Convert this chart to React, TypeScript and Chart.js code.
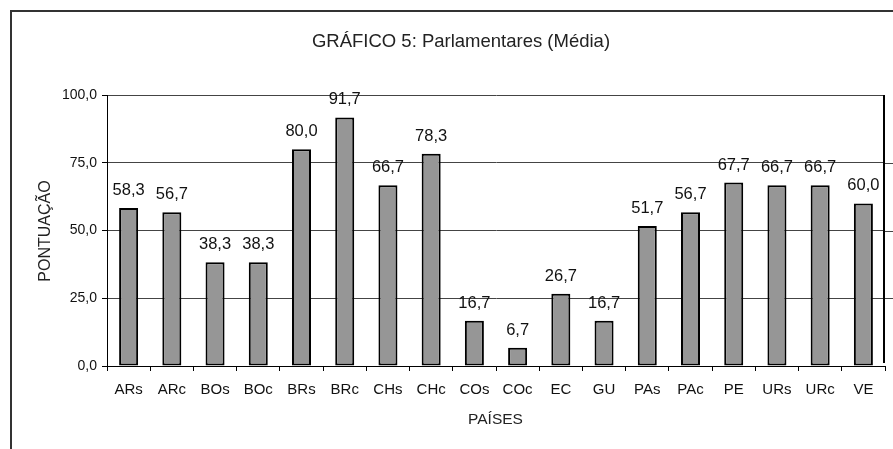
import React, { useEffect, useRef } from "react";
import { Chart, registerables } from "chart.js";

Chart.register(...registerables);

const categories = ["ARs", "ARc", "BOs", "BOc", "BRs", "BRc", "CHs", "CHc", "COs", "COc", "EC", "GU", "PAs", "PAc", "PE", "URs", "URc", "VE"];
const values = [58.3, 56.7, 38.3, 38.3, 80.0, 91.7, 66.7, 78.3, 16.7, 6.7, 26.7, 16.7, 51.7, 56.7, 67.7, 66.7, 66.7, 60.0];
const yTicks = [0, 25, 50, 75, 100];
const titleText = "GRÁFICO 5: Parlamentares (Média)";
const yTitle = "PONTUAÇÃO";
const xTitle = "PAÍSES";

const FONT = "'Liberation Sans', Arial, sans-serif";
const fmt = (v: number) => v.toFixed(1).replace(".", ",");

const decorPlugin = {
  id: "decor",
  beforeDraw(chart: any) {
    const ctx = chart.ctx;
    ctx.save();
    ctx.fillStyle = "#fff";
    ctx.fillRect(0, 0, chart.width, chart.height);
    ctx.strokeStyle = "#333";
    ctx.lineWidth = 2;
    ctx.beginPath();
    ctx.moveTo(11, chart.height);
    ctx.lineTo(11, 11);
    ctx.lineTo(chart.width, 11);
    ctx.stroke();
    ctx.restore();
  },
  afterDraw(chart: any) {
    const ctx = chart.ctx;
    const ca = chart.chartArea;
    const ys = chart.scales.y;
    ctx.save();
    ctx.fillStyle = "#222";
    ctx.textAlign = "center";
    ctx.textBaseline = "middle";
    ctx.font = `18.5px ${FONT}`;
    ctx.fillText(titleText, 461, 42);
    ctx.font = `15.5px ${FONT}`;
    ctx.fillText(xTitle, 495.5, 420);
    ctx.save();
    ctx.translate(46, 231);
    ctx.rotate(-Math.PI / 2);
    ctx.font = `16px ${FONT}`;
    ctx.fillText(yTitle, 0, 0);
    ctx.restore();
    // gridline stubs beyond the right frame line
    ctx.strokeStyle = "#444";
    ctx.lineWidth = 1;
    yTicks.slice(1, 4).forEach((t) => {
      const y = Math.round(ys.getPixelForValue(t)) + 0.5;
      ctx.beginPath();
      ctx.moveTo(ca.right, y);
      ctx.lineTo(chart.width, y);
      ctx.stroke();
    });
    // right frame line
    ctx.strokeStyle = "#000";
    ctx.lineWidth = 2;
    ctx.beginPath();
    ctx.moveTo(ca.right - 1, ca.top);
    ctx.lineTo(ca.right - 1, ca.bottom - 3);
    ctx.stroke();
    // data labels
    const meta = chart.getDatasetMeta(0);
    ctx.font = `16.5px ${FONT}`;
    ctx.fillStyle = "#111";
    ctx.textBaseline = "alphabetic";
    meta.data.forEach((el: any, i: number) => {
      ctx.fillText(fmt(values[i]), el.x, el.y - 13);
    });
    ctx.restore();
  },
};

export default function App() {
  const ref = useRef<HTMLCanvasElement>(null);
  useEffect(() => {
    if (!ref.current) return;
    const chart = new Chart(ref.current, {
      type: "bar",
      data: {
        labels: categories,
        datasets: [
          {
            data: values,
            backgroundColor: "#969696",
            borderColor: "#000",
            borderWidth: 2,
            borderSkipped: false,
            barPercentage: 0.44,
            categoryPercentage: 1,
          },
        ],
      },
      options: {
        animation: false,
        responsive: false,
        maintainAspectRatio: false,
        layout: { padding: { top: 95, right: 8, left: 0, bottom: 0 } },
        plugins: {
          legend: { display: false },
          title: { display: false },
          tooltip: { enabled: false },
        },
        scales: {
          x: {
            offset: true,
            afterFit: (s: any) => {
              s.height = 449 - 95 - 271;
            },
            grid: {
              display: true,
              drawOnChartArea: false,
              drawTicks: true,
              tickLength: 5,
              color: "#000",
              offset: true,
            },
            border: { display: true, color: "#000", width: 1 },
            ticks: {
              color: "#111",
              font: { family: FONT, size: 15 },
              padding: 10,
              maxRotation: 0,
              autoSkip: false,
            },
          },
          y: {
            min: 0,
            max: 100,
            afterFit: (s: any) => {
              s.width = 107;
            },
            afterBuildTicks: (s: any) => {
              s.ticks = yTicks.map((v) => ({ value: v }));
            },
            grid: {
              color: "#444",
              lineWidth: 1,
              drawTicks: true,
              tickLength: 5,
              tickColor: "#000",
            },
            border: { display: true, color: "#000", width: 1 },
            ticks: {
              color: "#111",
              font: { family: FONT, size: 14 },
              padding: 5,
              callback: (v: any) => fmt(Number(v)),
            },
          },
        },
      },
      plugins: [decorPlugin],
    });
    return () => chart.destroy();
  }, []);
  return (
    <div style={{ position: "absolute", left: 0, top: 0, width: 893, height: 449 }}>
      <canvas ref={ref} width={893} height={449} style={{ width: 893, height: 449 }} />
    </div>
  );
}
